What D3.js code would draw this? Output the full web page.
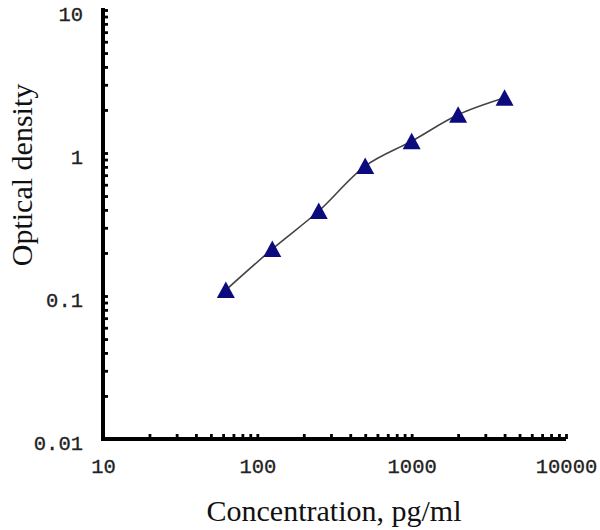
<!DOCTYPE html>
<html>
<head>
<meta charset="utf-8">
<script src="https://cdn.jsdelivr.net/npm/d3@7"></script>
<style>
  html, body { margin: 0; padding: 0; background: #fff; }
  svg { display: block; }
</style>
</head>
<body>
<svg id="chart" width="600" height="530"></svg>
<script>
// ---- data ----
const concentrations = [62.5, 125, 250, 500, 1000, 2000, 4000];
const opticalDensity = [0.110, 0.213, 0.393, 0.81, 1.21, 1.85, 2.43];
const xTickLabels = [10, 100, 1000, 10000];
const yTickLabels = [0.01, 0.1, 1, 10];
const xTitle = "Concentration, pg/ml";
const yTitle = "Optical density";

(function () {
const svg = d3.select("#chart");
const mLeft = 103, mRight = 566, mTop = 10, mBottom = 439;

const x = d3.scaleLog().domain([10, 10000]).range([mLeft, mRight]);
const y = d3.scaleLog().domain([0.01, 10]).range([mBottom, mTop]);

function logTicks(lo, hi) {
  const out = [];
  for (let d = lo; d < hi * 1.0001; d *= 10) {
    for (let k = 1; k <= 9; k++) {
      const v = d * k;
      if (v <= hi * 1.0001) out.push(v);
    }
  }
  return out;
}

// y axis ticks (pointing inward / right)
const yAx = svg.append("g").attr("transform", `translate(${mLeft},0)`)
  .call(d3.axisRight(y).tickValues(logTicks(0.01, 10)).tickSize(5).tickFormat(""));
yAx.select(".domain").remove();
yAx.selectAll(".tick line").attr("stroke", "#000").attr("stroke-width", 2.8);

// x axis ticks (pointing inward / up)
const xAx = svg.append("g").attr("transform", `translate(0,${mBottom})`)
  .call(d3.axisTop(x).tickValues(logTicks(10, 10000)).tickSize(5).tickFormat(""));
xAx.select(".domain").remove();
xAx.selectAll(".tick line").attr("stroke", "#000").attr("stroke-width", 2.8);

// axis lines
svg.append("line").attr("x1", mLeft).attr("x2", mLeft).attr("y1", mTop - 2).attr("y2", mBottom + 2)
  .attr("stroke", "#000").attr("stroke-width", 4);
svg.append("line").attr("x1", mLeft - 2).attr("x2", mRight).attr("y1", mBottom).attr("y2", mBottom)
  .attr("stroke", "#000").attr("stroke-width", 4);

// tick labels
const yLab = svg.append("g").attr("transform", `translate(${mLeft - 20},0)`)
  .call(d3.axisLeft(y).tickValues(yTickLabels).tickSize(0).tickFormat(d => String(d)));
yLab.select(".domain").remove();
yLab.selectAll("text").attr("font-family", "Liberation Mono, monospace").attr("font-size", 20.5)
  .attr("fill", "#222").attr("stroke", "#222").attr("stroke-width", 0.3)
  .attr("dy", "0.5em").attr("x", 0);

const xLab = svg.append("g").attr("transform", `translate(0,${mBottom + 24})`)
  .call(d3.axisBottom(x).tickValues(xTickLabels).tickSize(0).tickFormat(d => String(d)));
xLab.select(".domain").remove();
xLab.selectAll("text").attr("font-family", "Liberation Mono, monospace").attr("font-size", 20.5)
  .attr("fill", "#222").attr("stroke", "#222").attr("stroke-width", 0.3)
  .attr("dy", "0.5em").attr("y", 0);

// curve
const pts = concentrations.map((c, i) => [c, opticalDensity[i]]);
const line = d3.line().x(d => x(d[0])).y(d => y(d[1])).curve(d3.curveCatmullRom.alpha(0.5));
svg.append("path").attr("d", line(pts)).attr("fill", "none")
  .attr("stroke", "#444").attr("stroke-width", 1.6);

// triangle markers
const tri = "M0,-8.5L9,8L-9,8Z";
svg.append("g").selectAll("path").data(pts).join("path")
  .attr("d", tri)
  .attr("transform", d => `translate(${x(d[0])},${y(d[1])})`)
  .attr("fill", "#0b0b7e");

// titles
svg.append("text").attr("x", 334).attr("y", 521).attr("text-anchor", "middle")
  .attr("font-family", "Liberation Serif, Times New Roman, serif").attr("font-size", 30)
  .attr("fill", "#111").text(xTitle);
svg.append("text").attr("transform", "translate(32,175) rotate(-90)").attr("text-anchor", "middle")
  .attr("font-family", "Liberation Serif, Times New Roman, serif").attr("font-size", 30)
  .attr("fill", "#111").text(yTitle);
})();
</script>
</body>
</html>
